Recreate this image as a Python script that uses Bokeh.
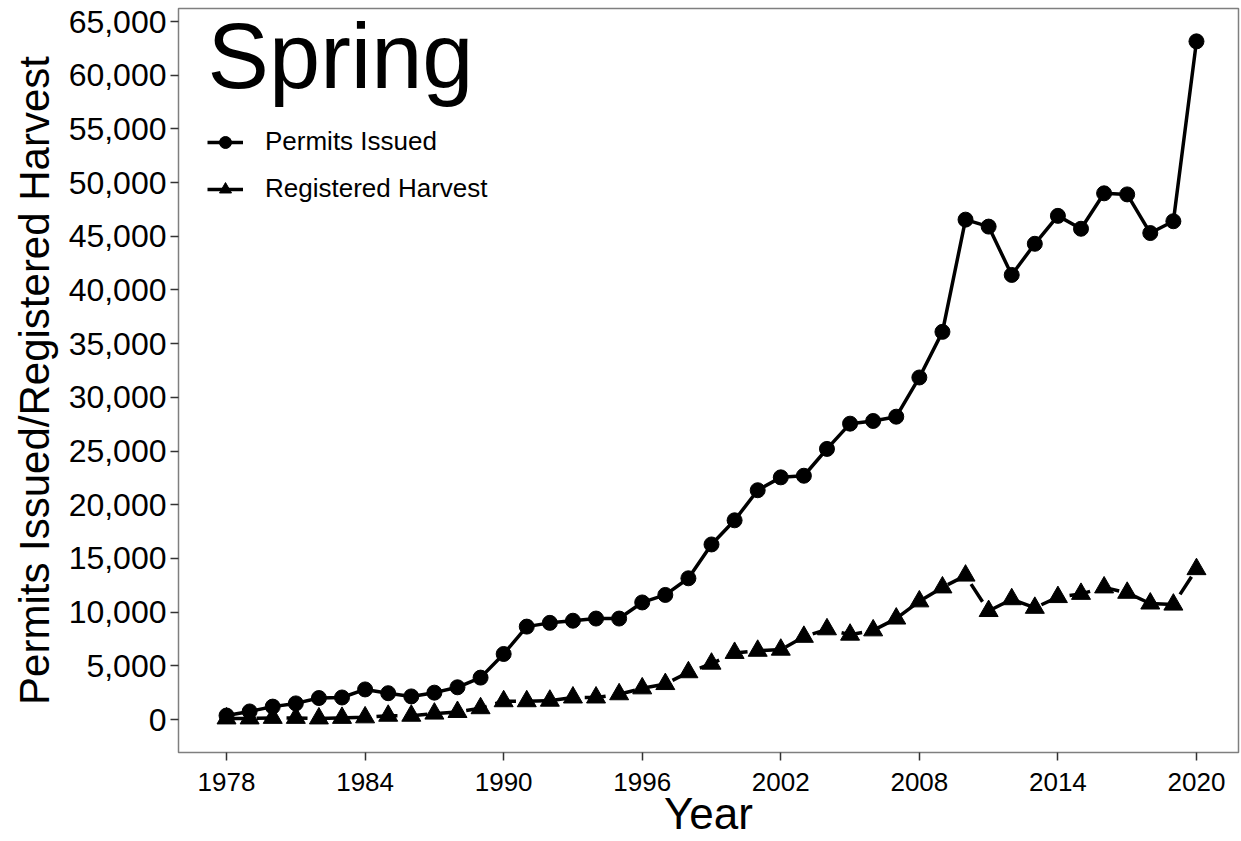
from bokeh.plotting import figure
from bokeh.models import Range1d, Legend, LegendItem, Label, FixedTicker, NumeralTickFormatter
from bokeh.embed import file_html
from bokeh.resources import INLINE

years = list(range(1978, 2021))
permits = [370, 750, 1200, 1500, 2000, 2050, 2800, 2450, 2150, 2500, 3000, 3900,
           6100, 8650, 9000, 9200, 9400, 9400, 10900, 11600, 13150, 16300, 18550,
           21350, 22550, 22700, 25200, 27550, 27800, 28200, 31850, 36100, 46550,
           45900, 41400, 44300, 46900, 45700, 49000, 48900, 45300, 46400, 63150]
harvest = [100, 100, 150, 150, 100, 150, 200, 350, 350, 550, 700, 1050,
           1700, 1700, 1750, 2050, 2050, 2350, 2900, 3300, 4400, 5200, 6200,
           6400, 6500, 7700, 8400, 7900, 8300, 9400, 11000, 12300, 13400,
           10100, 11200, 10400, 11400, 11700, 12300, 11800, 10800, 10700, 14000]
x_ticks = [1978, 1984, 1990, 1996, 2002, 2008, 2014, 2020]
y_ticks = list(range(0, 65001, 5000))
title_text = "Spring"
x_title = "Year"
y_title = "Permits Issued/Registered Harvest"
series_names = ["Permits Issued", "Registered Harvest"]

FONT = "Liberation Sans"

p = figure(width=1240, height=840, output_backend="svg", toolbar_location=None,
           x_range=Range1d(1975.92, 2021.82), y_range=Range1d(-3073, 66211),
           min_border_left=178, min_border_right=2, min_border_top=8, min_border_bottom=88)

p.background_fill_color = "white"
p.border_fill_color = "white"
p.outline_line_color = "#7f7f7f"
p.outline_line_width = 1.5
p.grid.visible = False

# harvest (dashed with triangles)
h_line = p.line(years, harvest, line_color="black", line_width=3.5, line_dash="21 9")
h_pts = p.scatter(years, harvest, marker="triangle", size=19, fill_color="black", line_color="black")
# permits (solid with circles)
p_line = p.line(years, permits, line_color="black", line_width=3.5)
p_pts = p.scatter(years, permits, marker="circle", size=15, fill_color="black", line_color="black")

# legend-only solid line for harvest key (drawn off-screen)
h_key = p.line([1900, 1901], [0, 0], line_color="black", line_width=3.5)

legend = Legend(items=[LegendItem(label=series_names[0], renderers=[p_line, p_pts]),
                       LegendItem(label=series_names[1], renderers=[h_key, h_pts])],
                location=(29, 548), orientation="vertical")
legend.label_text_font = FONT
legend.label_text_font_size = "26px"
legend.label_text_color = "black"
legend.glyph_width = 36
legend.glyph_height = 30
legend.label_standoff = 22
legend.spacing = 16
legend.padding = 0
legend.margin = 0
legend.border_line_color = None
legend.background_fill_alpha = 0
p.add_layout(legend)

lbl = Label(x=1977.18, y=61834, text=title_text, text_font=FONT, text_font_size="92px",
            text_color="black", text_baseline="alphabetic")
p.add_layout(lbl)

for ax in (p.xaxis[0], p.yaxis[0]):
    ax.axis_line_color = None
    ax.major_tick_line_color = "#333333"
    ax.major_tick_line_width = 1.5
    ax.major_tick_out = 8
    ax.major_tick_in = 0
    ax.minor_tick_line_color = None
    ax.major_label_text_font = FONT
    ax.major_label_text_color = "black"
    ax.axis_label_text_font = FONT
    ax.axis_label_text_font_style = "normal"
    ax.axis_label_text_color = "black"

p.xaxis.ticker = FixedTicker(ticks=x_ticks)
p.yaxis.ticker = FixedTicker(ticks=y_ticks)
p.yaxis.formatter = NumeralTickFormatter(format="0,0")
p.xaxis.major_label_text_font_size = "26px"
p.yaxis.major_label_text_font_size = "32px"
p.xaxis.axis_label = x_title
p.yaxis.axis_label = y_title
p.xaxis.axis_label_text_font_size = "44px"
p.yaxis.axis_label_text_font_size = "42px"
p.xaxis.major_label_standoff = 12
p.yaxis.major_label_standoff = 4
p.xaxis.axis_label_standoff = -5
p.yaxis.axis_label_standoff = 8

open("out.html", "w").write(file_html(p, INLINE))
